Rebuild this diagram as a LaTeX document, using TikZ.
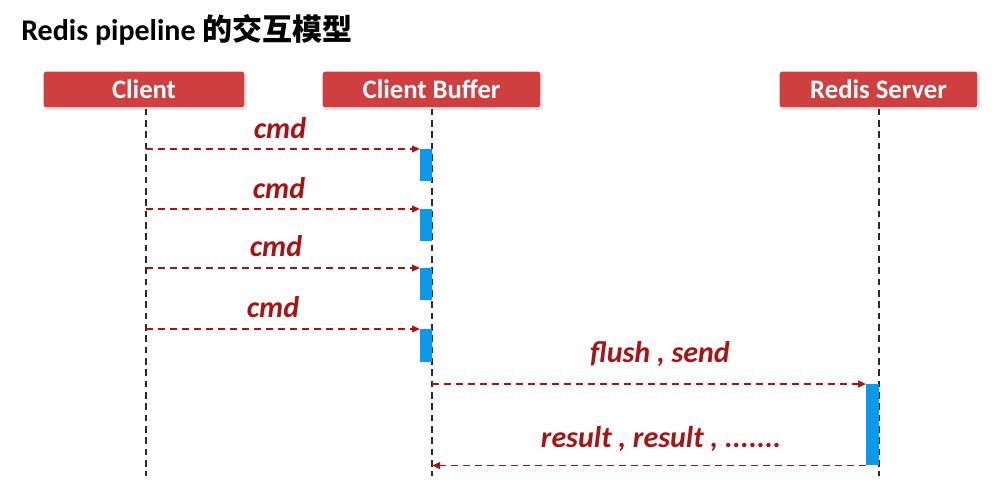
\documentclass[tikz,border=0pt]{standalone}
\usepackage{fontspec}
\setmainfont{Carlito}
\newfontfamily\cjk{Noto Sans CJK SC}
\usetikzlibrary{shadows,arrows.meta}
\definecolor{boxred}{HTML}{D03F3F}
\definecolor{msgred}{HTML}{A81414}
\definecolor{barblue}{HTML}{0A9AEC}
\definecolor{lifegray}{HTML}{2A2A2A}
\tikzset{
  actor/.style={draw=white, line width=1pt, fill=boxred, rounded corners=2pt,
    text=white, font=\fontsize{20}{22}\selectfont\bfseries, inner sep=0pt,
    drop shadow={opacity=0.35, shadow xshift=0.8pt, shadow yshift=-1.2pt}},
  life/.style={draw=lifegray, line width=1.6pt, dash pattern=on 5pt off 3.5pt},
  msg/.style={draw=msgred, line width=1.3pt, dash pattern=on 5.5pt off 3.5pt,
    -{Triangle[length=6pt,width=5pt]}},
  lbl/.style={text=msgred, font=\fontsize{22.5}{25}\selectfont\bfseries\itshape, inner sep=0pt},
  bar/.style={fill=barblue, draw=none, inner sep=0pt, anchor=north west},
}
\begin{document}
\begin{tikzpicture}[x=0.75pt,y=-0.75pt]
\useasboundingbox (0,0) rectangle (1001,494);
\fill[white] (0,0) rectangle (1001,494);
\node[anchor=west, inner sep=0pt, font=\fontsize{22.5}{25}\selectfont\bfseries] (title) at (21,30) {Redis pipeline {\cjk\bfseries 的交互模型}};

\node[actor, minimum width=202*0.75pt, minimum height=37*0.75pt] (client) at (144,89.5) {Client};
\node[actor, minimum width=219*0.75pt, minimum height=37*0.75pt] (buffer) at (431.5,89.5) {Client Buffer};
\node[actor, minimum width=199*0.75pt, minimum height=37*0.75pt] (server) at (878.5,89.5) {Redis Server};

\coordinate (cend) at (146,476);
\coordinate (bend) at (432,476);
\coordinate (send) at (879,476);
\draw[life] (client.south -| cend) -- (cend);
\draw[life] (buffer.south -| bend) -- (bend);
\draw[life] (server.south -| send) -- (send);

% buffer bars
\node[bar, minimum width=12*0.75pt, minimum height=32*0.75pt] (b1) at (420,149) {};
\node[bar, minimum width=12*0.75pt, minimum height=32*0.75pt] (b2) at (420,209) {};
\node[bar, minimum width=12*0.75pt, minimum height=32*0.75pt] (b3) at (420,268) {};
\node[bar, minimum width=12*0.75pt, minimum height=33*0.75pt] (b4) at (420,329) {};
\node[bar, minimum width=13*0.75pt, minimum height=81*0.75pt] (s1) at (866,384) {};

\draw[msg] (cend |- b1.north west) -- (b1.north west);
\draw[msg] (cend |- b2.north west) -- (b2.north west);
\draw[msg] (cend |- b3.north west) -- (b3.north west);
\draw[msg] (cend |- b4.north west) -- (b4.north west);
\draw[msg] (bend |- s1.north west) -- (s1.north west);
\draw[msg] (s1.south west) -- (bend |- s1.south west);

\node[lbl] (l1) at (280,128) {cmd};
\node[lbl] (l2) at (279,188) {cmd};
\node[lbl] (l3) at (276,246) {cmd};
\node[lbl] (l4) at (273,307) {cmd};
\node[lbl] (l5) at (660,354) {flush , send};
\node[lbl] (l6) at (661,439) {result , result , .......};
\end{tikzpicture}
\end{document}
